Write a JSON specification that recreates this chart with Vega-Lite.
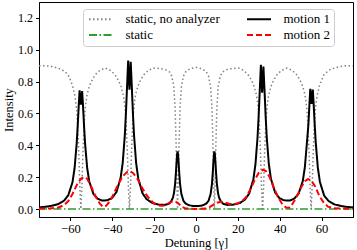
{
"$schema": "https://vega.github.io/schema/vega-lite/v6.json",
"width": 314, "height": 215,
"autosize": {"type": "none"},
"padding": {"left": 39, "top": 2, "right": 4, "bottom": 33},
"background": "white",
"config": {
 "view": {"stroke": "black", "strokeWidth": 1},
 "font": "Liberation Serif",
 "axis": {"grid": false, "tickSize": 3.5, "tickColor": "black", "domainColor": "black", "labelColor": "black", "titleColor": "black", "labelFont": "Liberation Serif", "titleFont": "Liberation Serif", "labelFontSize": 12.5, "titleFontSize": 12.5, "titleFontWeight": "normal"},
 "legend": {"orient": "none", "legendX": 44, "legendY": 7, "columns": 2, "title": null, "symbolType": "M-1,0H5", "symbolSize": 64, "symbolStrokeWidth": 2, "labelFont": "Liberation Serif", "labelFontSize": 13, "labelColor": "black", "fillColor": "white", "strokeColor": "#cccccc", "cornerRadius": 3, "padding": 3.5, "columnPadding": 22, "rowPadding": 2, "labelOffset": 26}
},
"datasets": {
 "gray": [
  {"x":-75,"y":0.90},{"x":-72,"y":0.90},{"x":-69,"y":0.895},{"x":-66,"y":0.885},{"x":-64,"y":0.875},{"x":-62,"y":0.855},{"x":-61,"y":0.84},{"x":-60,"y":0.81},{"x":-59,"y":0.775},{"x":-58,"y":0.72},{"x":-57.5,"y":0.68},{"x":-57,"y":0.62},{"x":-56.5,"y":0.52},{"x":-56,"y":0.36},{"x":-55.5,"y":0.14},{"x":-55,"y":0},{"x":-54.5,"y":0.14},{"x":-54,"y":0.36},{"x":-53.5,"y":0.52},{"x":-53,"y":0.62},{"x":-52.5,"y":0.68},{"x":-52,"y":0.72},{"x":-51,"y":0.77},{"x":-50,"y":0.80},{"x":-49,"y":0.825},{"x":-48,"y":0.845},{"x":-46,"y":0.87},{"x":-43.4,"y":0.885},{"x":-40.8,"y":0.87},{"x":-38.8,"y":0.845},{"x":-37.8,"y":0.825},{"x":-36.8,"y":0.80},{"x":-35.8,"y":0.77},{"x":-34.8,"y":0.72},{"x":-34.3,"y":0.68},{"x":-33.8,"y":0.62},{"x":-33.3,"y":0.52},{"x":-32.8,"y":0.36},{"x":-32.3,"y":0.14},{"x":-31.8,"y":0},{"x":-31.3,"y":0.14},{"x":-30.8,"y":0.36},{"x":-30.3,"y":0.52},{"x":-29.8,"y":0.62},{"x":-29.3,"y":0.68},{"x":-28.8,"y":0.72},{"x":-27.8,"y":0.77},{"x":-26.8,"y":0.80},{"x":-25.8,"y":0.825},{"x":-24.8,"y":0.845},{"x":-22.8,"y":0.87},{"x":-20.5,"y":0.885},{"x":-18,"y":0.883},{"x":-16,"y":0.88},{"x":-14.6,"y":0.875},{"x":-12.6,"y":0.86},{"x":-11.6,"y":0.835},{"x":-10.6,"y":0.77},{"x":-10,"y":0.64},{"x":-9.5,"y":0.41},{"x":-9.2,"y":0.2},{"x":-8.8,"y":0},{"x":-8.4,"y":0.2},{"x":-8.1,"y":0.41},{"x":-7.6,"y":0.64},{"x":-7,"y":0.765},{"x":-6,"y":0.835},{"x":-5,"y":0.86},{"x":-3,"y":0.88},{"x":0,"y":0.89},
  {"x":3,"y":0.88},{"x":5,"y":0.86},{"x":6,"y":0.835},{"x":7,"y":0.765},{"x":7.6,"y":0.64},{"x":8.1,"y":0.41},{"x":8.4,"y":0.2},{"x":8.8,"y":0},{"x":9.2,"y":0.2},{"x":9.5,"y":0.41},{"x":10,"y":0.64},{"x":10.6,"y":0.77},{"x":11.6,"y":0.835},{"x":12.6,"y":0.86},{"x":14.6,"y":0.875},{"x":16,"y":0.88},{"x":18,"y":0.883},{"x":20.5,"y":0.885},{"x":22.8,"y":0.87},{"x":24.8,"y":0.845},{"x":25.8,"y":0.825},{"x":26.8,"y":0.80},{"x":27.8,"y":0.77},{"x":28.8,"y":0.72},{"x":29.3,"y":0.68},{"x":29.8,"y":0.62},{"x":30.3,"y":0.52},{"x":30.8,"y":0.36},{"x":31.3,"y":0.14},{"x":31.8,"y":0},{"x":32.3,"y":0.14},{"x":32.8,"y":0.36},{"x":33.3,"y":0.52},{"x":33.8,"y":0.62},{"x":34.3,"y":0.68},{"x":34.8,"y":0.72},{"x":35.8,"y":0.77},{"x":36.8,"y":0.80},{"x":37.8,"y":0.825},{"x":38.8,"y":0.845},{"x":40.8,"y":0.87},{"x":43.4,"y":0.885},{"x":46,"y":0.87},{"x":48,"y":0.845},{"x":49,"y":0.825},{"x":50,"y":0.80},{"x":51,"y":0.77},{"x":52,"y":0.72},{"x":52.5,"y":0.68},{"x":53,"y":0.62},{"x":53.5,"y":0.52},{"x":54,"y":0.36},{"x":54.5,"y":0.14},{"x":55,"y":0},{"x":55.5,"y":0.14},{"x":56,"y":0.36},{"x":56.5,"y":0.52},{"x":57,"y":0.62},{"x":57.5,"y":0.68},{"x":58,"y":0.72},{"x":59,"y":0.775},{"x":60,"y":0.81},{"x":61,"y":0.84},{"x":62,"y":0.855},{"x":64,"y":0.875},{"x":66,"y":0.885},{"x":69,"y":0.895},{"x":72,"y":0.90},{"x":75,"y":0.90}
 ],
 "green": [{"x":-75,"y":0},{"x":-25,"y":0},{"x":25,"y":0},{"x":75,"y":0}],
 "black": [
  {"x":-75,"y":0.011},{"x":-72,"y":0.014},{"x":-69,"y":0.020},{"x":-66,"y":0.030},{"x":-63,"y":0.053},{"x":-61,"y":0.087},{"x":-59,"y":0.168},{"x":-58,"y":0.256},{"x":-57,"y":0.412},{"x":-56.5,"y":0.525},{"x":-56,"y":0.655},{"x":-55.6,"y":0.745},{"x":-55.3,"y":0.70},{"x":-55,"y":0.655},{"x":-54.7,"y":0.70},{"x":-54.4,"y":0.74},{"x":-54,"y":0.656},{"x":-53.5,"y":0.527},{"x":-53,"y":0.414},{"x":-52,"y":0.259},{"x":-51,"y":0.173},{"x":-49,"y":0.095},{"x":-47,"y":0.065},{"x":-45,"y":0.054},{"x":-43.5,"y":0.053},{"x":-42,"y":0.057},{"x":-40,"y":0.071},{"x":-38,"y":0.107},{"x":-36,"y":0.196},{"x":-35,"y":0.292},{"x":-34,"y":0.464},{"x":-33.5,"y":0.593},{"x":-33,"y":0.75},{"x":-32.4,"y":0.933},{"x":-32.1,"y":0.83},{"x":-31.8,"y":0.75},{"x":-31.5,"y":0.83},{"x":-31.2,"y":0.925},{"x":-30.6,"y":0.749},{"x":-30.1,"y":0.592},{"x":-29.6,"y":0.463},{"x":-28.6,"y":0.289},{"x":-27.6,"y":0.192},{"x":-25.6,"y":0.100},{"x":-23.6,"y":0.062},{"x":-21,"y":0.039},{"x":-18,"y":0.028},{"x":-15,"y":0.026},{"x":-13,"y":0.033},{"x":-12,"y":0.045},{"x":-11,"y":0.072},{"x":-10.5,"y":0.102},{"x":-10,"y":0.155},{"x":-9.6,"y":0.225},{"x":-9.3,"y":0.292},{"x":-9,"y":0.348},{"x":-8.8,"y":0.362},{"x":-8.6,"y":0.348},{"x":-8.3,"y":0.292},{"x":-8,"y":0.225},{"x":-7.6,"y":0.155},{"x":-7,"y":0.095},{"x":-6,"y":0.052},{"x":-5,"y":0.035},{"x":-3.5,"y":0.025},{"x":-2,"y":0.020},{"x":0,"y":0.019},
  {"x":2,"y":0.020},{"x":3.5,"y":0.025},{"x":5,"y":0.035},{"x":6,"y":0.052},{"x":7,"y":0.095},{"x":7.6,"y":0.155},{"x":8,"y":0.225},{"x":8.3,"y":0.292},{"x":8.6,"y":0.348},{"x":8.8,"y":0.362},{"x":9,"y":0.348},{"x":9.3,"y":0.292},{"x":9.6,"y":0.225},{"x":10,"y":0.155},{"x":10.5,"y":0.102},{"x":11,"y":0.072},{"x":12,"y":0.045},{"x":13,"y":0.033},{"x":15,"y":0.026},{"x":18,"y":0.028},{"x":21,"y":0.038},{"x":23.4,"y":0.060},{"x":25.4,"y":0.097},{"x":27.4,"y":0.186},{"x":28.4,"y":0.281},{"x":29.4,"y":0.45},{"x":29.9,"y":0.575},{"x":30.4,"y":0.727},{"x":31.0,"y":0.905},{"x":31.3,"y":0.81},{"x":31.6,"y":0.73},{"x":31.9,"y":0.81},{"x":32.2,"y":0.895},{"x":32.8,"y":0.727},{"x":33.3,"y":0.575},{"x":33.8,"y":0.45},{"x":34.8,"y":0.281},{"x":35.8,"y":0.19},{"x":37.8,"y":0.104},{"x":39.8,"y":0.069},{"x":41.8,"y":0.056},{"x":43.4,"y":0.053},{"x":45,"y":0.054},{"x":47,"y":0.066},{"x":49,"y":0.096},{"x":51,"y":0.175},{"x":52,"y":0.262},{"x":53,"y":0.418},{"x":53.7,"y":0.532},{"x":54.2,"y":0.66},{"x":54.6,"y":0.755},{"x":54.9,"y":0.71},{"x":55.2,"y":0.66},{"x":55.5,"y":0.71},{"x":55.8,"y":0.75},{"x":56.2,"y":0.66},{"x":56.7,"y":0.532},{"x":57.2,"y":0.418},{"x":58.2,"y":0.259},{"x":59.2,"y":0.17},{"x":61.2,"y":0.085},{"x":63.2,"y":0.052},{"x":66.2,"y":0.029},{"x":69.2,"y":0.019},{"x":72.2,"y":0.013},{"x":75,"y":0.011}
 ],
 "red": [
  {"x":-75,"y":0.003},{"x":-70,"y":0.004},{"x":-66,"y":0.008},{"x":-63,"y":0.025},{"x":-61,"y":0.05},{"x":-59,"y":0.095},{"x":-57,"y":0.15},{"x":-55,"y":0.19},{"x":-53.5,"y":0.202},{"x":-52,"y":0.19},{"x":-50,"y":0.14},{"x":-48,"y":0.08},{"x":-46,"y":0.035},{"x":-44.5,"y":0.015},{"x":-43,"y":0.02},{"x":-41,"y":0.05},{"x":-39,"y":0.105},{"x":-37,"y":0.16},{"x":-35,"y":0.205},{"x":-33,"y":0.232},{"x":-31.5,"y":0.237},{"x":-30,"y":0.225},{"x":-28,"y":0.19},{"x":-26,"y":0.14},{"x":-24,"y":0.095},{"x":-22,"y":0.06},{"x":-20,"y":0.035},{"x":-18,"y":0.022},{"x":-16,"y":0.02},{"x":-14,"y":0.028},{"x":-12.5,"y":0.042},{"x":-11,"y":0.05},{"x":-9.5,"y":0.045},{"x":-8,"y":0.03},{"x":-6.5,"y":0.012},{"x":-5,"y":0.004},{"x":0,"y":0.001},{"x":5,"y":0.004},{"x":6.5,"y":0.012},{"x":8,"y":0.025},{"x":10,"y":0.04},{"x":12,"y":0.045},{"x":14,"y":0.04},{"x":16,"y":0.032},{"x":18,"y":0.03},{"x":20,"y":0.035},{"x":22,"y":0.05},{"x":24,"y":0.075},{"x":26,"y":0.125},{"x":28,"y":0.18},{"x":30,"y":0.228},{"x":32,"y":0.247},{"x":33.5,"y":0.237},{"x":35,"y":0.205},{"x":37,"y":0.14},{"x":39,"y":0.08},{"x":41,"y":0.035},{"x":43,"y":0.01},{"x":44.5,"y":0.008},{"x":46,"y":0.03},{"x":48,"y":0.075},{"x":50,"y":0.13},{"x":52,"y":0.175},{"x":53.5,"y":0.188},{"x":55,"y":0.18},{"x":57,"y":0.14},{"x":59,"y":0.08},{"x":61,"y":0.04},{"x":63,"y":0.015},{"x":66,"y":0.005},{"x":70,"y":0.003},{"x":75,"y":0.002}
 ]
},
"encoding": {
 "x": {"field": "x", "type": "quantitative", "scale": {"domain": [-75, 75], "nice": false}, "axis": {"title": "Detuning [γ]", "values": [-60, -40, -20, 0, 20, 40, 60], "labelPadding": 2, "titlePadding": 1}},
 "y": {"field": "y", "type": "quantitative", "scale": {"domain": [-0.05, 1.3], "nice": false, "zero": false}, "axis": {"title": "Intensity", "values": [0, 0.2, 0.4, 0.6, 0.8, 1.0, 1.2], "format": ".1f", "labelFontSize": 12, "labelPadding": 3, "titlePadding": 2}}
},
"layer": [
 {"data": {"name": "gray"}, "mark": {"type": "line", "strokeWidth": 1.5, "clip": true}, "encoding": {"color": {"datum": "static, no analyzer", "type": "nominal", "scale": {"domain": ["static, no analyzer", "static", "motion 1", "motion 2"], "range": ["#808080", "#2ca02c", "#000000", "#ff0000"]}}, "strokeDash": {"datum": "static, no analyzer", "type": "nominal", "scale": {"domain": ["static, no analyzer", "static", "motion 1", "motion 2"], "range": [[1.5, 2.5], [8, 2.5, 1.5, 2.5], [1, 0], [6, 3]]}}}},
 {"data": {"name": "green"}, "mark": {"type": "line", "strokeWidth": 1.5, "clip": true}, "encoding": {"color": {"datum": "static", "type": "nominal"}, "strokeDash": {"datum": "static", "type": "nominal"}}},
 {"data": {"name": "black"}, "mark": {"type": "line", "strokeWidth": 2, "clip": true}, "encoding": {"color": {"datum": "motion 1", "type": "nominal"}, "strokeDash": {"datum": "motion 1", "type": "nominal"}}},
 {"data": {"name": "red"}, "mark": {"type": "line", "strokeWidth": 2, "clip": true}, "encoding": {"color": {"datum": "motion 2", "type": "nominal"}, "strokeDash": {"datum": "motion 2", "type": "nominal"}}}
]
}
